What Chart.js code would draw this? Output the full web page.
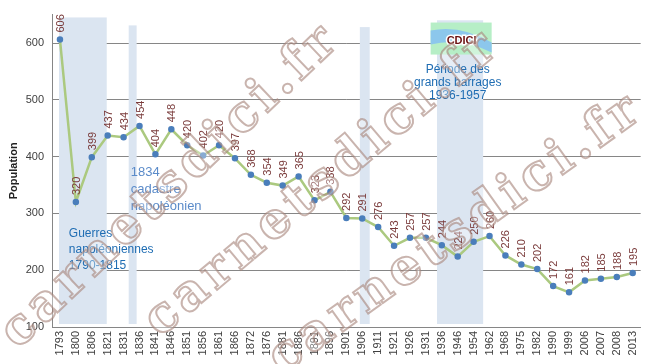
<!DOCTYPE html>
<html>
<head>
<meta charset="utf-8">
<script src="https://cdn.jsdelivr.net/npm/chart.js@4"></script>
<style>body{margin:0;background:#fff}</style>
</head>
<body>
<canvas id="chart" width="650" height="364"></canvas>
<script>
const years = ["1793","1800","1806","1821","1831","1836","1841","1846","1851","1856","1861","1866","1872","1876","1881","1886","1891","1896","1901","1906","1911","1921","1926","1931","1936","1946","1954","1962","1968","1975","1982","1990","1999","2006","2007","2008","2013"];
const population = [606,320,399,437,434,454,404,448,420,402,420,397,368,354,349,365,323,338,292,291,276,243,257,257,244,224,250,260,226,210,202,172,161,182,185,188,195];
const yTicks = [100,200,300,400,500,600];

// shaded periods: [from index, to index, top value]
const periods = [[-0.06, 2.94, 645], [4.32, 4.82, 631], [18.85, 19.47, 628], [23.7, 26.6, 640]];

// notes: lines, index, value, colour, align
const notes = [
  { lines: ["1834", "cadastre", "napoléonien"], at: 4.45, value: 372, color: "#5b8bc9", size: 13, align: "left", gap: 17 },
  { lines: ["Guerres", "napoléoniennes", "1790-1815"], at: 0.56, value: 264, color: "#1f6db3", size: 12, align: "left", gap: 16 },
  { lines: ["Période des", "grands barrages", "1936-1957"], at: 25, value: 553, color: "#1f6db3", size: 12, align: "center", gap: 13 }
];

const bandsPlugin = {
  id: "bands",
  beforeDatasetsDraw(chart) {
    const { ctx, chartArea, scales: { x, y } } = chart;
    ctx.save();
    ctx.fillStyle = "#dbe5f1";
    periods.forEach(p => {
      const x1 = x.getPixelForValue(p[0]);
      const x2 = x.getPixelForValue(p[1]);
      const top = y.getPixelForValue(p[2]);
      ctx.fillRect(x1, top, x2 - x1, chartArea.bottom - 3 - top);
    });
    ctx.restore();
  }
};

const labelsPlugin = {
  id: "valueLabels",
  afterDatasetsDraw(chart) {
    const { ctx } = chart;
    const meta = chart.getDatasetMeta(0);
    ctx.save();
    ctx.font = "11px 'Liberation Sans', Arial";
    ctx.fillStyle = "#7a3b3b";
    ctx.textAlign = "left";
    ctx.textBaseline = "middle";
    meta.data.forEach((pt, i) => {
      ctx.save();
      ctx.translate(pt.x + 1, pt.y - 7);
      ctx.rotate(-Math.PI / 2);
      ctx.fillText(String(population[i]), 0, 0);
      ctx.restore();
    });

    const { x, y } = chart.scales;
    notes.forEach(n => {
      ctx.font = n.size + "px 'Liberation Sans', Arial";
      ctx.fillStyle = n.color;
      ctx.textAlign = n.align;
      const px = x.getPixelForValue(n.at);
      const py = y.getPixelForValue(n.value);
      n.lines.forEach((l, k) => ctx.fillText(l, px, py + k * n.gap));
    });

    // CDICI logo
    const lx = x.getPixelForValue(23.3), ly = y.getPixelForValue(636);
    ctx.fillStyle = "#b6eec6";
    ctx.fillRect(lx, ly, 61, 32);
    ctx.fillStyle = "#8cc7ec";
    ctx.beginPath();
    ctx.moveTo(lx, ly + 8);
    ctx.quadraticCurveTo(lx + 30, ly + 2, lx + 61, ly + 20);
    ctx.lineTo(lx + 61, ly + 30);
    ctx.quadraticCurveTo(lx + 30, ly + 14, lx, ly + 22);
    ctx.closePath();
    ctx.fill();
    ctx.font = "bold 11px 'Liberation Sans', Arial";
    ctx.textAlign = "center";
    ctx.lineWidth = 3;
    ctx.strokeStyle = "#fff";
    ctx.strokeText("CDICI", lx + 31, ly + 18);
    ctx.fillStyle = "#6b1010";
    ctx.fillText("CDICI", lx + 31, ly + 18);
    ctx.restore();
  },
  afterDraw(chart) {
    const { ctx } = chart;
    ctx.save();
    ctx.font = "bold 50px 'DejaVu Serif'";
    ctx.letterSpacing = "5px";
    ctx.lineWidth = 2;
    ctx.strokeStyle = "rgba(165,130,120,0.6)";
    ctx.fillStyle = "rgba(255,255,255,0.35)";
    [[18, 350, -0.76], [160, 338, -0.70], [282, 375, -0.62]].forEach(s => {
      ctx.save();
      ctx.translate(s[0], s[1]);
      ctx.rotate(s[2]);
      ctx.fillText("carnetsdici.fr", 0, 0);
      ctx.strokeText("carnetsdici.fr", 0, 0);
      ctx.restore();
    });
    ctx.restore();
  }
};

new Chart(document.getElementById("chart"), {
  type: "line",
  data: {
    labels: years,
    datasets: [{
      data: population,
      borderColor: "#abc97f",
      borderWidth: 2.5,
      pointBackgroundColor: "#4a7ebb",
      pointBorderColor: "#4a7ebb",
      pointRadius: 2,
      tension: 0
    }]
  },
  options: {
    responsive: false,
    animation: false,
    devicePixelRatio: 1,
    layout: { padding: { top: 9, right: 7, left: 7, bottom: 0 } },
    plugins: { legend: { display: false }, tooltip: { enabled: false } },
    scales: {
      x: {
        offset: true,
        grid: { display: false, drawTicks: false },
        border: { color: "#868686" },
        ticks: { color: "#404040", font: { size: 11, family: "'Liberation Sans', Arial" }, minRotation: 90, maxRotation: 90, autoSkip: false, padding: 4 },
        afterFit(s) { s.height = 37; }
      },
      y: {
        min: 100,
        max: 650,
        afterBuildTicks(s) { s.ticks = yTicks.map(v => ({ value: v })); },
        grid: { color: "#868686", drawTicks: false },
        border: { color: "#868686" },
        ticks: { color: "#404040", font: { size: 11, family: "'Liberation Sans', Arial" }, padding: 8 },
        title: { display: true, text: "Population", color: "#222", font: { size: 11, weight: "bold", family: "'Liberation Sans', Arial" }, padding: 0 },
        afterFit(s) { s.width = 45; }
      }
    }
  },
  plugins: [bandsPlugin, labelsPlugin]
});
</script>
</body>
</html>
